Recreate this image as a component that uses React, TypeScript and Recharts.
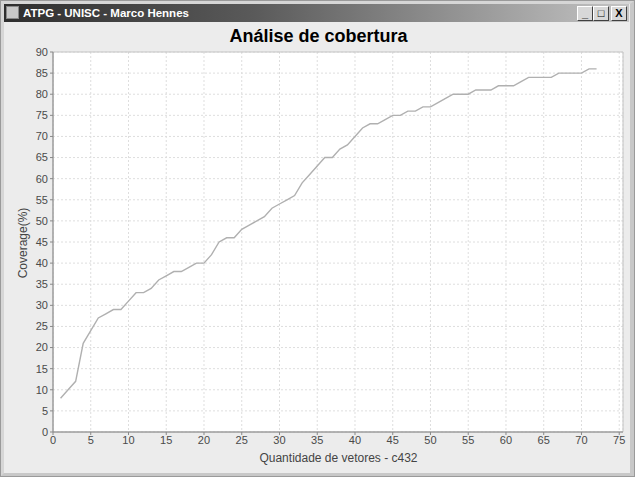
import { CartesianGrid, Line, LineChart, ReferenceArea, XAxis, YAxis } from 'recharts';

// vectors applied (x) and fault coverage in % (y)
const vectors = [
  1, 2, 3, 4, 5, 6, 7, 8, 9, 10, 11, 12, 13, 14, 15, 16, 17, 18, 19, 20, 21, 22, 23, 24,
  25, 26, 27, 28, 29, 30, 31, 32, 33, 34, 35, 36, 37, 38, 39, 40, 41, 42, 43, 44, 45, 46,
  47, 48, 49, 50, 51, 52, 53, 54, 55, 56, 57, 58, 59, 60, 61, 62, 63, 64, 65, 66, 67, 68,
  69, 70, 71, 72,
];
const coverage = [
  8, 10, 12, 21, 24, 27, 28, 29, 29, 31, 33, 33, 34, 36, 37, 38, 38, 39, 40, 40, 42, 45, 46, 46,
  48, 49, 50, 51, 53, 54, 55, 56, 59, 61, 63, 65, 65, 67, 68, 70, 72, 73, 73, 74, 75, 75,
  76, 76, 77, 77, 78, 79, 80, 80, 80, 81, 81, 81, 82, 82, 82, 83, 84, 84, 84, 84, 85, 85,
  85, 85, 86, 86,
];
const xTicks = [0, 5, 10, 15, 20, 25, 30, 35, 40, 45, 50, 55, 60, 65, 70, 75];
const yTicks = [0, 5, 10, 15, 20, 25, 30, 35, 40, 45, 50, 55, 60, 65, 70, 75, 80, 85, 90];

const data = vectors.map((v, i) => ({ vetores: v, coverage: coverage[i] }));

const FONT = '"Liberation Sans", Arial, sans-serif';
const tickStyle = { fontSize: 11, fill: '#4a4a4a', fontFamily: FONT };

function WinButton({ children }: { children: React.ReactNode }) {
  return (
    <div
      style={{
        width: 14,
        height: 13,
        background: '#d8d8d8',
        borderTop: '1px solid #ffffff',
        borderLeft: '1px solid #ffffff',
        borderRight: '1px solid #404040',
        borderBottom: '1px solid #404040',
        fontSize: 11,
        fontWeight: 'bold',
        lineHeight: '13px',
        textAlign: 'center',
        color: '#000',
        fontFamily: FONT,
      }}
    >
      {children}
    </div>
  );
}

export default function App() {
  return (
    <div
      style={{
        position: 'absolute',
        left: 0,
        top: 0,
        width: 635,
        height: 477,
        background: '#ececec',
        boxSizing: 'border-box',
        border: '1px solid #9a9a9a',
        overflow: 'hidden',
      }}
    >
      {/* window frame */}
      <div
        style={{
          position: 'absolute',
          left: 0,
          top: 0,
          width: 633,
          height: 475,
          boxSizing: 'border-box',
          borderTop: '3px solid #d6d6d6',
          borderLeft: '3px solid #d6d6d6',
          borderRight: '4px solid #c8c8c8',
          borderBottom: '3px solid #c8c8c8',
        }}
      />
      <div
        style={{
          position: 'absolute',
          left: 3,
          top: 3,
          width: 625,
          height: 18,
          background: 'linear-gradient(to right, #2e2e2e 0%, #5a5a5a 40%, #c4c4c4 100%)',
        }}
      >
        <div
          style={{
            position: 'absolute',
            left: 2,
            top: 2,
            width: 13,
            height: 13,
            background: '#c8c8c8',
            border: '1px solid #888',
            boxSizing: 'border-box',
          }}
        />
        <div
          style={{
            position: 'absolute',
            left: 19,
            top: 2,
            color: '#ffffff',
            fontFamily: FONT,
            fontWeight: 'bold',
            fontSize: 11.5,
            lineHeight: '14px',
          }}
        >
          ATPG - UNISC - Marco Hennes
        </div>
        <div style={{ position: 'absolute', right: 2, top: 2, display: 'flex', gap: 0 }}>
          <WinButton>_</WinButton>
          <WinButton>□</WinButton>
          <div style={{ width: 2 }} />
          <WinButton>X</WinButton>
        </div>
      </div>

      <div
        style={{
          position: 'absolute',
          left: 0,
          top: 24,
          width: 635,
          textAlign: 'center',
          fontFamily: FONT,
          fontWeight: 'bold',
          fontSize: 18,
          color: '#000',
          lineHeight: '22px',
        }}
      >
        Análise de cobertura
      </div>

      <div style={{ position: 'absolute', left: -1, top: -1 }}>
        <LineChart
          width={635}
          height={477}
          data={data}
          margin={{ top: 52, right: 12, bottom: 20, left: 23 }}
        >
          <CartesianGrid stroke="#dedede" strokeDasharray="2 2" fill="#ffffff" />
          <XAxis
            dataKey="vetores"
            type="number"
            domain={[0, 75.5]}
            ticks={xTicks}
            interval={0}
            allowDataOverflow
            height={25}
            tick={tickStyle}
            tickSize={3}
            tickMargin={1}
            stroke="#888888"
          />
          <YAxis
            type="number"
            domain={[0, 90]}
            ticks={yTicks}
            interval={0}
            width={30}
            tick={tickStyle}
            tickSize={3}
            tickMargin={2}
            stroke="#888888"
          />
          <ReferenceArea
            x1={0}
            x2={75.5}
            y1={0}
            y2={90}
            fill="none"
            stroke="#c4c4c4"
            strokeWidth={1}
          />
          <Line
            dataKey="coverage"
            type="linear"
            stroke="#b0b0b0"
            strokeWidth={1.4}
            dot={false}
            isAnimationActive={false}
          />
        </LineChart>
      </div>

      <div
        style={{
          position: 'absolute',
          left: 50,
          top: 450,
          width: 575,
          textAlign: 'center',
          fontFamily: FONT,
          fontSize: 12,
          color: '#444444',
        }}
      >
        Quantidade de vetores - c432
      </div>
      <div
        style={{
          position: 'absolute',
          left: 22,
          top: 242,
          transform: 'translate(-50%, -50%) rotate(-90deg)',
          whiteSpace: 'nowrap',
          fontFamily: FONT,
          fontSize: 12,
          color: '#444444',
        }}
      >
        Coverage(%)
      </div>
    </div>
  );
}
